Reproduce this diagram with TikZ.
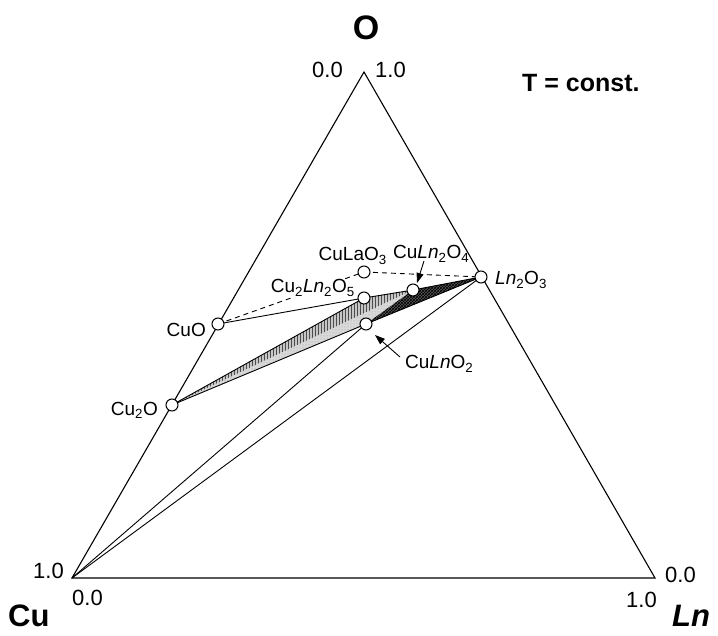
\documentclass[tikz,border=0pt]{standalone}
\usepackage{fontspec}
\setmainfont{Liberation Sans}
\usetikzlibrary{arrows.meta,patterns,calc}

\begin{document}
\begin{tikzpicture}[x=1pt,y=-1pt,
  pt/.style={circle,draw=black,fill=white,minimum size=12pt,inner sep=0pt,line width=1pt},
  lbl/.style={font=\fontsize{19}{23}\selectfont,inner sep=0pt},
  num/.style={font=\fontsize{22}{26}\selectfont,inner sep=0pt},
  big/.style={font=\bfseries\fontsize{31}{34}\selectfont,inner sep=0pt},
  edge/.style={line width=1.1pt},
  tie/.style={line width=0.9pt},
  dashtie/.style={line width=0.9pt,dash pattern=on 5pt off 4pt},
  arr/.style={line width=0.9pt,-{Triangle[length=10pt,width=7pt]}}]
\useasboundingbox (0,0) rectangle (718,636);
\fill[white] (0,0) rectangle (718,636);

% corners of the triangle
\coordinate (Cu) at (72,578);
\coordinate (Ln) at (655,578);
\coordinate (O) at (364,72);

% phase positions
\coordinate (cLn2O3) at (481,277);
\coordinate (cCuO) at (218,324);
\coordinate (cCu2O) at (172,405);
\coordinate (cCu2Ln2O5) at (364,298);
\coordinate (cCuLn2O4) at (413,290);
\coordinate (cCuLnO2) at (366,324);
\coordinate (cCuLaO3) at (364,272);

% three-phase fields
\fill[gray!45] (cCu2O) -- (cCu2Ln2O5) -- (cCuLn2O4) -- cycle;
\fill[pattern=vertical lines,pattern color=black!70] (cCu2O) -- (cCu2Ln2O5) -- (cCuLn2O4) -- cycle;
\fill[gray!30] (cCu2O) -- (cCuLn2O4) -- (cCuLnO2) -- cycle;
\fill[pattern=dots,pattern color=black!40] (cCu2O) -- (cCuLn2O4) -- (cCuLnO2) -- cycle;
\fill[black!65] (cCuLnO2) -- (cCuLn2O4) -- (cLn2O3) -- cycle;
\fill[pattern=crosshatch,pattern color=black] (cCuLnO2) -- (cCuLn2O4) -- (cLn2O3) -- cycle;

% outer triangle
\draw[edge,line join=miter] (Cu) -- (Ln) -- (O) -- cycle;

% tie lines
\draw[tie] (Cu) -- (cCuLnO2);
\draw[tie] (Cu) -- (cLn2O3);
\draw[tie] (cCuO) -- (cCu2Ln2O5);
\draw[tie] (cCu2O) -- (cCu2Ln2O5);
\draw[tie] (cCu2O) -- (cCuLnO2);
\draw[tie] (cCu2Ln2O5) -- (cCuLn2O4);
\draw[tie] (cCuLn2O4) -- (cLn2O3);
\draw[tie] (cCuLnO2) -- (cLn2O3);
\draw[dashtie] (cCuO) -- (cCuLaO3);
\draw[dashtie] (cCuLaO3) -- (cLn2O3);

% phase labels
\node[lbl,anchor=base east,fill=white,inner sep=1pt] (lCu2Ln2O5) at (356,293) {Cu\textsubscript{2}\textit{Ln}\textsubscript{2}O\textsubscript{5}};
\node[lbl,anchor=base east] (lCuO) at (206,337) {CuO};
\node[lbl,anchor=base east] (lCu2O) at (158,415) {Cu\textsubscript{2}O};
\node[lbl,anchor=base west] (lLn2O3) at (495,285) {\textit{Ln}\textsubscript{2}O\textsubscript{3}};
\node[lbl,anchor=base east] (lCuLaO3) at (387,261) {CuLaO\textsubscript{3}};
\node[lbl,anchor=base west] (lCuLn2O4) at (393,259) {Cu\textit{Ln}\textsubscript{2}O\textsubscript{4}};
\node[lbl,anchor=base west] (lCuLnO2) at (405,369) {Cu\textit{Ln}O\textsubscript{2}};

% phase points
\node[pt] (pLn2O3) at (cLn2O3) {};
\node[pt] (pCuO) at (cCuO) {};
\node[pt] (pCu2O) at (cCu2O) {};
\node[pt] (pCu2Ln2O5) at (cCu2Ln2O5) {};
\node[pt] (pCuLn2O4) at (cCuLn2O4) {};
\node[pt] (pCuLnO2) at (cCuLnO2) {};
\node[pt] (pCuLaO3) at (cCuLaO3) {};

% pointer arrows
\coordinate (a1s) at (400,357);
\coordinate (a1e) at (375,335);
\draw[arr] (a1s) -- (a1e);
\coordinate (a2s) at (424,261);
\coordinate (a2e) at (417,283);
\draw[arr] (a2s) -- (a2e);

% scale numbers
\node[num,anchor=base east] (n1) at (64,578) {1.0};
\node[num,anchor=base west] (n2) at (72,605) {0.0};
\node[num,anchor=base west] (n3) at (665,582) {0.0};
\node[num,anchor=base east] (n4) at (657,607) {1.0};
\node[num,anchor=base east] (n5) at (343,78) {0.0};
\node[num,anchor=base west] (n6) at (375,78) {1.0};

% corner labels
\node[big,font=\bfseries\fontsize{34}{38}\selectfont] (lO) at (366,28) {O};
\node[big,anchor=base west] (lCu) at (8,626) {Cu};
\node[big,anchor=base west] (lLn) at (672,626) {\itshape Ln};
\node[font=\bfseries\fontsize{25}{30}\selectfont,inner sep=0pt,anchor=base west] (lT) at (522,92) {T = const.};
\end{tikzpicture}
\end{document}
